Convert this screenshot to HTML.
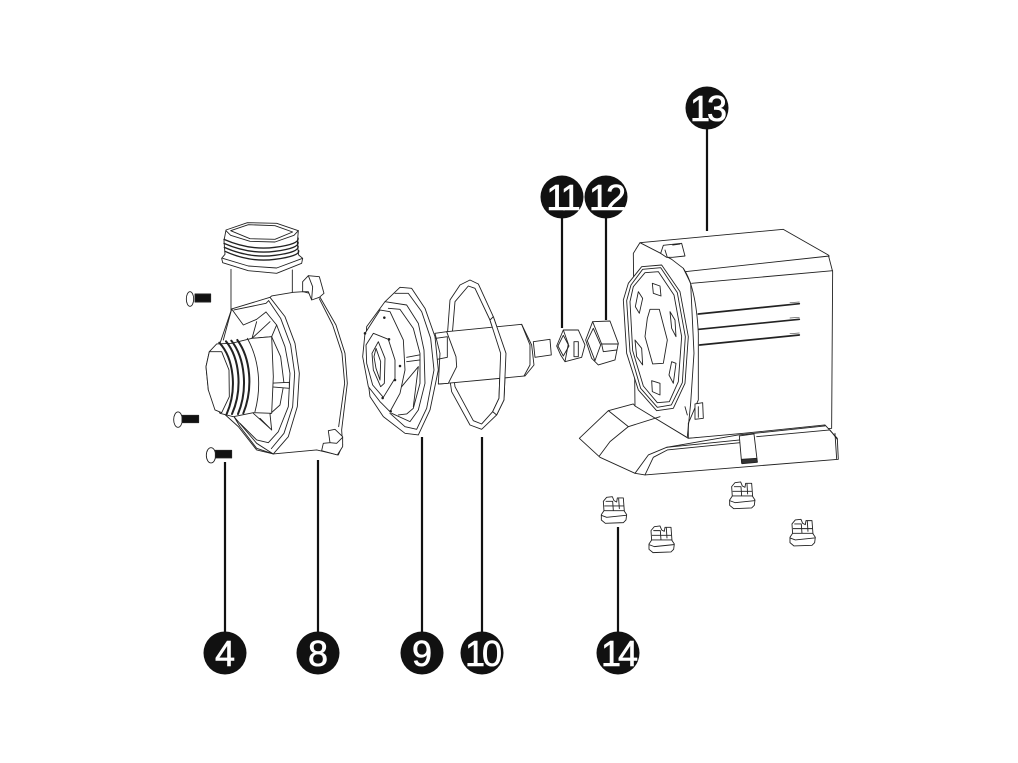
<!DOCTYPE html>
<html><head><meta charset="utf-8"><style>
html,body{margin:0;padding:0;background:#fff;width:1018px;height:763px;overflow:hidden}
svg{display:block}
.p path,.p polygon,.p line,.p ellipse,.p rect{stroke:#222;stroke-width:2.7;stroke-linejoin:round;stroke-linecap:round}
.w{fill:#fff}.n{fill:none}
.p path.th{stroke:#222;stroke-width:6;fill:none}
.p path.v{stroke:#222;stroke-width:5;fill:none}
.p path.v2{stroke:#555;stroke-width:2;fill:none}
text{font-family:"Liberation Sans",sans-serif;font-size:36px;fill:#fff;stroke:#fff;stroke-width:.6;text-anchor:middle;font-weight:400}
</style></head><body>
<svg width="1018" height="763" viewBox="0 0 1018 763" xmlns="http://www.w3.org/2000/svg">
<rect width="1018" height="763" fill="#fff"/>

<!-- leaders -->
<g stroke="#111" stroke-width="2.2">
<line x1="707" y1="120" x2="707" y2="231"/>
<line x1="562" y1="205" x2="562" y2="328"/>
<line x1="606" y1="205" x2="606" y2="320"/>
<line x1="225" y1="462" x2="225" y2="640"/>
<line x1="318" y1="460" x2="318" y2="640"/>
<line x1="422" y1="437" x2="422" y2="640"/>
<line x1="482" y1="437" x2="482" y2="640"/>
<line x1="618" y1="527" x2="618" y2="640"/>
</g>

<!-- pump housing -->
<g class="p" transform="translate(160,210) scale(.3333)">
<line x1="213" y1="178" x2="213" y2="300"/>
<line x1="397" y1="180" x2="397" y2="248"/>
<path class="w" d="M198,60 L262,38 L350,40 L415,62 L412,100 L416,135 L428,145 L425,160 L350,190 L265,182 L188,158 L185,145 L195,133 L192,92 Z"/>
<path class="n" d="M212,62 L265,44 L345,47 L398,66 L345,88 L270,86 Z"/>
<path class="n" d="M198,62 L212,76 L270,94 L345,96 L402,76 L415,62"/>
<path class="n" style="stroke-width:4" d="M192,88 Q270,122 345,112 T414,84"/>
<path class="n" style="stroke-width:4" d="M192,100 Q270,134 345,124 T414,96"/>
<path class="n" style="stroke-width:4" d="M193,112 Q270,146 345,136 T414,108"/>
<path class="n" style="stroke-width:4" d="M195,124 Q270,158 345,148 T416,122"/>
<path class="n" d="M188,145 L265,168 L350,174 L428,145"/>

<!-- rear ring & clips -->
<path class="w" d="M335,258 L400,247 L430,245 L478,258 L528,345 L555,430 L562,520 L545,660 L548,705 L535,735 L470,720 L340,732 L290,720 L235,650 L180,600 L180,400 L215,297 L330,262 Z"/>
<path class="n" d="M478,266 L518,345 L546,430 L554,520 L536,650"/>
<path class="w" d="M428,245 L428,215 L445,197 L478,200 L492,250 L478,262 L455,270 L445,245 Z"/>
<path class="n" d="M445,197 L458,230 L455,268"/>
<path class="w" d="M505,662 L525,658 L548,680 L548,710 L532,735 L485,722 L490,700 L510,698 Z"/>
<path class="n" d="M510,698 L530,700 L548,682"/>
<!-- front cover rim -->
<path class="n" d="M330,262 L375,320 L405,400 L418,490 L412,590 L385,680 L340,732"/>
<path class="n" d="M326,272 L362,325 L392,405 L404,490 L398,590 L372,670 L334,716"/>
<path class="n" d="M318,306 L350,345 L375,410 L390,490 L385,590 L355,665 L325,698 L290,690 L240,640"/>
<path class="n" d="M222,300 L318,280 L326,272"/>
<path class="n" d="M215,297 L250,345 L290,328 L318,306"/>
<path class="n" d="M290,335 L276,385 L335,380 L350,345"/>
<path class="n" d="M276,385 L330,335"/>
<path class="n" d="M215,297 L190,390"/>
<path class="n" d="M335,380 L362,440 L372,520 L360,585 L330,612 L335,660"/>
<path class="n" d="M280,610 L335,660 L300,625"/>
<path class="w" d="M325,520 L388,517 L388,535 L328,530 Z"/>
<path class="w" d="M240,650 L290,715 L340,732 L290,700 L222,620 Z"/>
<!-- threaded neck -->
<path class="w" d="M215,400 L276,385 L335,380 L340,500 L335,610 L280,608 L220,620 L180,610 L145,540 L138,470 L148,425 L170,402 Z"/>
<path class="th" d="M178,398 C222,445 232,540 200,612"/>
<path class="th" d="M198,394 C240,445 248,540 216,612"/>
<path class="th" d="M214,392 C256,445 264,540 234,612"/>
<path class="th" d="M232,390 C272,445 280,535 250,610"/>
<path class="n" d="M262,385 C298,450 305,530 285,605"/>
<path class="w" d="M148,425 L185,425 L207,480 L208,560 L185,608 L165,600 L145,540 L138,470 Z"/>
<!-- screws -->
<ellipse class="w" cx="90" cy="267" rx="11" ry="22"/>
<rect x="105" y="252" width="47" height="24" fill="#111"/>
<ellipse class="w" cx="54" cy="629" rx="13" ry="23"/>
<rect x="66" y="616" width="50" height="22" fill="#111"/>
<ellipse class="w" cx="153" cy="736" rx="14" ry="23"/>
<rect x="166" y="721" width="49" height="23" fill="#111"/>
</g>

<!-- impeller -->
<g class="p" transform="translate(350,270) scale(.3333)">
<path class="n" d="M360,30 L385,42 L430,140 L468,250 L462,390 L440,435 L395,478 L360,465 L305,365 L288,250 L300,90 L330,45 Z"/>
<path class="n" d="M355,48 L375,55 L420,150 L452,250 L447,385 L428,425 L395,462 L370,452 L315,350 L302,250 L315,95 Z"/>
<path class="w" d="M290,185 L515,163 L545,225 L552,285 L525,318 L270,342 L320,290 L290,185 Z"/>
<path class="n" d="M515,163 L540,225 L540,285 L522,318"/>
<path class="w" d="M550,215 L600,208 L604,255 L555,262 Z"/>
<path class="w" d="M420,150 L430,140 L468,250 L462,390 L440,435 L428,425 L447,385 L452,250 Z"/>
<path class="w" d="M255,190 L290,185 L318,260 L320,290 L295,340 L265,342 L270,250 Z"/>
<path class="n" d="M258,205 L292,200 L292,262 L262,268"/>
<!-- discs -->
<path class="w" d="M150,52 L185,55 L225,115 L255,200 L265,300 L240,420 L205,495 L165,490 L100,440 L60,380 L45,260 L50,170 L105,95 Z"/>
<path class="n" d="M135,70 L175,70 L215,125 L242,205 L252,300 L230,415 L200,478 L165,470 L120,430"/>
<path class="n" d="M105,95 L170,105 L205,160 L222,240 L225,340 L205,420 L180,455 L125,430"/>
<path class="n" d="M115,115 L150,118 L190,175 L210,250 L210,340 L190,415 L170,432 L145,435"/>
<path class="n" d="M170,262 L208,255 M170,275 L210,270"/>
<path class="n" d="M155,350 L205,290 L190,410"/>
<path class="w" d="M90,120 L120,125 L160,210 L165,300 L150,370 L120,425 L90,395 L55,350 L38,260 L45,190 Z"/>
<path class="n" d="M115,208 L135,270 L135,325 L100,382 L68,345 L50,280 L48,225 L70,190 Z"/>
<path class="n" d="M85,215 L105,265 L103,340 L92,350 L70,300 L66,250 Z"/>
<path class="n" d="M78,235 L92,275 L90,330 L78,295 L72,260 Z"/>
<ellipse cx="103" cy="143" rx="2.5" ry="2.5" fill="#111"/>
<ellipse cx="45" cy="190" rx="2.5" ry="2.5" fill="#111"/>
<ellipse cx="117" cy="208" rx="2.5" ry="2.5" fill="#111"/>
<ellipse cx="150" cy="288" rx="2.5" ry="2.5" fill="#111"/>
<ellipse cx="135" cy="330" rx="2.5" ry="2.5" fill="#111"/>
<ellipse cx="98" cy="384" rx="2.5" ry="2.5" fill="#111"/>
<ellipse cx="122" cy="424" rx="2.5" ry="2.5" fill="#111"/>
<!-- nut 11 -->
<path class="w" d="M640,180 L685,180 L705,225 L695,262 L645,275 L632,255 L620,228 Z"/>
<path class="n" d="M640,196 L657,228 L640,258 L624,228 Z"/>
<path class="n" d="M640,180 L655,222 L645,275"/>
<rect class="n" x="672" y="215" width="13" height="45"/>
<!-- nut 12 -->
<path class="w" d="M728,155 L780,153 L805,220 L795,270 L745,285 L725,265 L707,210 Z"/>
<path class="n" d="M730,175 L752,225 L735,272 L712,212 Z"/>
<path class="n" d="M728,155 L755,222 L805,222"/>
<path class="n" d="M755,222 L760,245 L800,240"/>
</g>

<!-- motor -->
<g class="p" transform="translate(570,220) scale(.3333)">
<path class="w" d="M210,68 L640,28 L775,105 L788,155 L785,625 L355,655 L195,560 L190,100 Z"/>
<path class="n" d="M345,155 L778,108"/>
<path class="n" d="M365,190 L788,152"/>
<path class="n" d="M210,68 L272,100 L305,118 L340,145 Q378,200 385,340 L385,540 L355,610 L355,655"/>
<path class="n" d="M340,145 L362,190 L372,400 L362,550 L352,650"/>
<path class="w" d="M272,100 L280,76 L335,70 L345,108 L308,112 L290,112 Z"/>
<path class="n" d="M285,90 L292,112 M308,75 L330,72"/>
<path class="w" d="M375,552 L398,548 L400,595 L375,598 Z"/>
<path class="n" d="M345,560 L352,585 M385,560 L385,592"/>
<path class="v" d="M385,282 L688,251"/><path class="v2" d="M660,248 L688,246"/>
<path class="v" d="M387,328 L688,298"/><path class="v2" d="M660,294 L688,292"/>
<path class="v" d="M389,375 L688,345"/><path class="v2" d="M660,341 L688,339"/>
<path class="w" d="M215,140 L275,135 L330,215 L355,350 L345,490 L310,565 L260,572 L205,510 L170,400 L160,240 L175,190 Z"/>
<path class="n" d="M218,148 L272,143 L322,218 L346,350 L337,488 L304,555 L262,562 L212,505 L180,395 L170,242 L183,195 Z"/>
<path class="n" d="M225,158 L265,155 L312,225 L335,350 L325,485 L298,545 L262,548 L220,498 L188,392 L180,245 L190,200 Z"/>
<path class="n" d="M240,268 L268,268 L292,360 L280,430 L248,432 L225,350 L232,295 Z"/>
<path class="n" d="M247,190 L270,198 L273,228 L250,220 Z"/>
<path class="n" d="M205,215 L218,235 L208,280 L196,260 Z"/>
<path class="n" d="M300,275 L315,300 L318,350 L305,325 Z"/>
<path class="n" d="M195,360 L215,385 L218,435 L200,410 Z"/>
<path class="n" d="M305,425 L318,430 L310,490 L297,465 Z"/>
<path class="n" d="M245,482 L270,490 L270,525 L247,515 Z"/>
<!-- base -->
<path class="w" d="M190,552 L115,572 L28,655 L90,712 L195,760 L225,765 L805,718 L802,655 L765,615 L520,640 L355,655 L195,558 Z"/>
<path class="n" d="M115,572 L175,620 L270,590"/>
<path class="n" d="M175,620 L120,665 L88,708"/>
<path class="n" d="M195,760 L235,705 L290,682 L510,660"/>
<path class="n" d="M225,765 L250,712 L292,690 L510,668"/>
<path class="n" d="M560,650 L780,630 L802,658"/>
<path class="n" d="M290,682 L505,645 L765,618"/>
<path class="n" d="M795,640 L800,716"/>
<path class="w" d="M508,648 L552,642 L562,725 L515,730 Z"/>
<path d="M515,718 L560,715 L562,727 L516,731 Z" fill="#333"/>
<!-- feet -->
<g id="f" transform="translate(132,872)">
<path class="w" d="M-30,2 L-32,-28 L-22,-40 L-5,-42 L0,-30 L8,-26 L10,-38 L28,-38 L31,2 Z"/>
<path class="n" d="M-24,-28 L-4,-28 L-2,0 M14,-36 L16,-6 M-28,-14 L28,-14"/>
<path class="w" d="M-30,0 L30,0 L38,12 L36,28 L28,36 L-26,38 L-38,28 L-38,12 Z"/>
<path class="n" d="M-38,14 L-22,20 L36,14"/>
</g>
<use href="#f" x="385" y="-44"/>
<use href="#f" x="143" y="88"/>
<use href="#f" x="566" y="68"/>
</g>

<!-- badges -->
<g fill="#111">
<circle cx="707" cy="108" r="21.5"/><circle cx="562" cy="197" r="21.5"/><circle cx="606" cy="197" r="21.5"/>
<circle cx="225" cy="653" r="21.5"/><circle cx="318" cy="653" r="21.5"/><circle cx="422" cy="653" r="21.5"/><circle cx="482" cy="653" r="21.5"/><circle cx="618" cy="653" r="21.5"/>
</g>
<text x="707" y="121" letter-spacing="-3">13</text>
<text x="562" y="210" letter-spacing="-3">11</text>
<text x="606" y="210" letter-spacing="-3">12</text>
<text x="225" y="666">4</text>
<text x="318" y="666">8</text>
<text x="422" y="666">9</text>
<text x="482" y="666" letter-spacing="-3">10</text>
<text x="618" y="666" letter-spacing="-3">14</text>
</svg>
</body></html>
